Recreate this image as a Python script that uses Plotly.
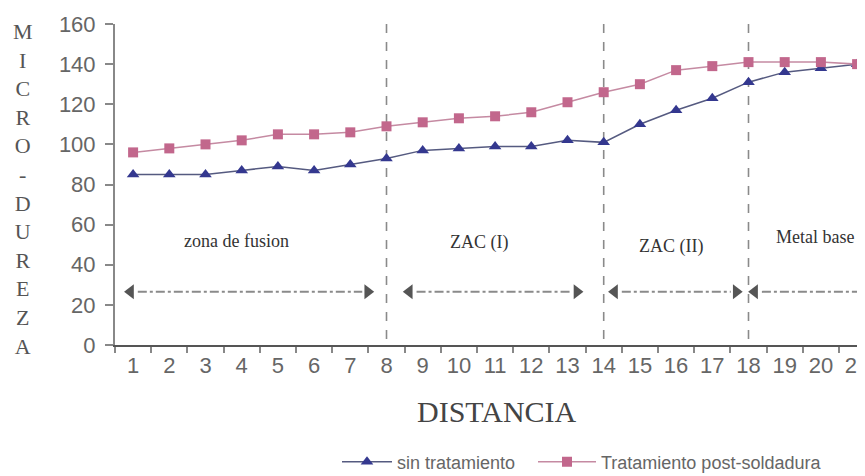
import plotly.graph_objects as go

# ---- data ----
distancia = list(range(1, 22))
tick_labels = [str(d) for d in distancia]
sin_tratamiento = [85, 85, 85, 87, 89, 87, 90, 93, 97, 98, 99, 99, 102, 101,
                   110, 117, 123, 131, 136, 138, 140]
post_soldadura = [96, 98, 100, 102, 105, 105, 106, 109, 111, 113, 114, 116, 121, 126,
                  130, 137, 139, 141, 141, 141, 140]

zone_names = ["zona de fusion", "ZAC (I)", "ZAC (II)", "Metal base"]
zone_label_x = [3.85, 10.55, 15.85, 19.85]
zone_label_y = [52, 51, 49, 54]
zone_arrow_start = [0.73, 8.43, 14.1, 17.97]
zone_arrow_end = [7.68, 13.46, 17.86, 21.5]
zone_arrow_y = 26.5
zone_boundaries = [8, 14, 18]

y_title = list("MICRO-DUREZA")

# page is offset by the browser's 8px body margin; plot area set accordingly
L, T, PW, PH = 107, 16, 763, 321
X_MAX = 0.5 + PW / 36.2


def px(page_x):
    return (page_x - 8 - L) / PW


def py(page_y):
    return (T + PH - (page_y - 8)) / PH


fig = go.Figure()

fig.add_trace(go.Scatter(
    x=distancia, y=sin_tratamiento, mode="lines+markers", name="sin tratamiento",
    line=dict(color="#555a80", width=1.5),
    marker=dict(symbol="triangle-up", size=11, color="#34388f"),
    legend="legend",
))
fig.add_trace(go.Scatter(
    x=distancia, y=post_soldadura, mode="lines+markers", name="Tratamiento post-soldadura",
    line=dict(color="#c58aa2", width=1.5),
    marker=dict(symbol="square", size=10, color="#c2678c"),
    legend="legend2",
))

# zone boundary dashed lines
for b in zone_boundaries:
    fig.add_shape(type="line", xref="x", yref="y", x0=b, x1=b, y0=3, y1=160,
                  line=dict(color="#8a8a8a", width=1.6, dash="dash"), layer="below")

# zone arrows (dash-dot lines with heads)
for s, e in zip(zone_arrow_start, zone_arrow_end):
    fig.add_shape(type="line", xref="x", yref="y", x0=s + 0.4, x1=e - 0.35,
                  y0=zone_arrow_y, y1=zone_arrow_y,
                  line=dict(color="#8a8a8a", width=2, dash="dashdot"), layer="below")
head_x = zone_arrow_start + zone_arrow_end[:3]
head_sym = ["triangle-left"] * 4 + ["triangle-right"] * 3
fig.add_trace(go.Scatter(
    x=[h + (0.2 if s == "triangle-left" else -0.2) for h, s in zip(head_x, head_sym)],
    y=[zone_arrow_y] * len(head_x), mode="markers", showlegend=False, hoverinfo="skip",
    marker=dict(symbol=head_sym, size=13, color="#555555"),
))

for name, zx, zy in zip(zone_names, zone_label_x, zone_label_y):
    fig.add_annotation(x=zx, y=zy, xref="x", yref="y", text=name, showarrow=False,
                       font=dict(family="Liberation Serif, Times New Roman, serif",
                                 size=18, color="#333333"))

# stacked vertical y-axis title
fig.add_annotation(x=px(23), y=py(188.5), xref="paper", yref="paper",
                   xanchor="center", yanchor="middle",
                   text="<br>".join(y_title), showarrow=False,
                   font=dict(family="Liberation Serif, Times New Roman, serif",
                             size=22, color="#555555"))

fig.add_annotation(x=px(497), y=py(411), xref="paper", yref="paper",
                   xanchor="center", yanchor="middle",
                   text="DISTANCIA", showarrow=False,
                   font=dict(family="Liberation Serif, Times New Roman, serif",
                             size=30, color="#444444"))

legend_font = dict(family="Liberation Sans, Arial, sans-serif", size=18, color="#666666")

fig.update_layout(
    width=870, height=476,
    margin=dict(l=L, r=0, t=T, b=476 - T - PH),
    paper_bgcolor="white", plot_bgcolor="white",
    showlegend=True,
    legend=dict(orientation="h", x=px(337), xanchor="left",
                y=py(462), yanchor="middle", itemwidth=50,
                font=legend_font, bgcolor="rgba(0,0,0,0)"),
    legend2=dict(orientation="h", x=px(533), xanchor="left",
                 y=py(462), yanchor="middle", itemwidth=58,
                 font=legend_font, bgcolor="rgba(0,0,0,0)"),
    xaxis=dict(
        range=[0.5, X_MAX], tickmode="array", tickvals=distancia, ticktext=tick_labels,
        ticks="", showgrid=False, zeroline=False, automargin=False,
        showline=True, linecolor="#555555", linewidth=2,
        tickfont=dict(family="Liberation Sans, Arial, sans-serif", size=22, color="#666666"),
        minor=dict(tickmode="array", tickvals=[d - 0.5 for d in distancia] + [21.5],
                   ticks="outside", ticklen=6, tickcolor="#888888", tickwidth=1.5),
    ),
    yaxis=dict(
        range=[0, 160], dtick=20, ticks="outside", ticklen=8, tickcolor="#888888",
        tickwidth=1.5, showgrid=False, zeroline=False, automargin=False,
        showline=True, linecolor="#888888", linewidth=2,
        tickfont=dict(family="Liberation Sans, Arial, sans-serif", size=22, color="#666666"),
        ticklabelstandoff=5,
    ),
)

fig.write_html("out.html")
